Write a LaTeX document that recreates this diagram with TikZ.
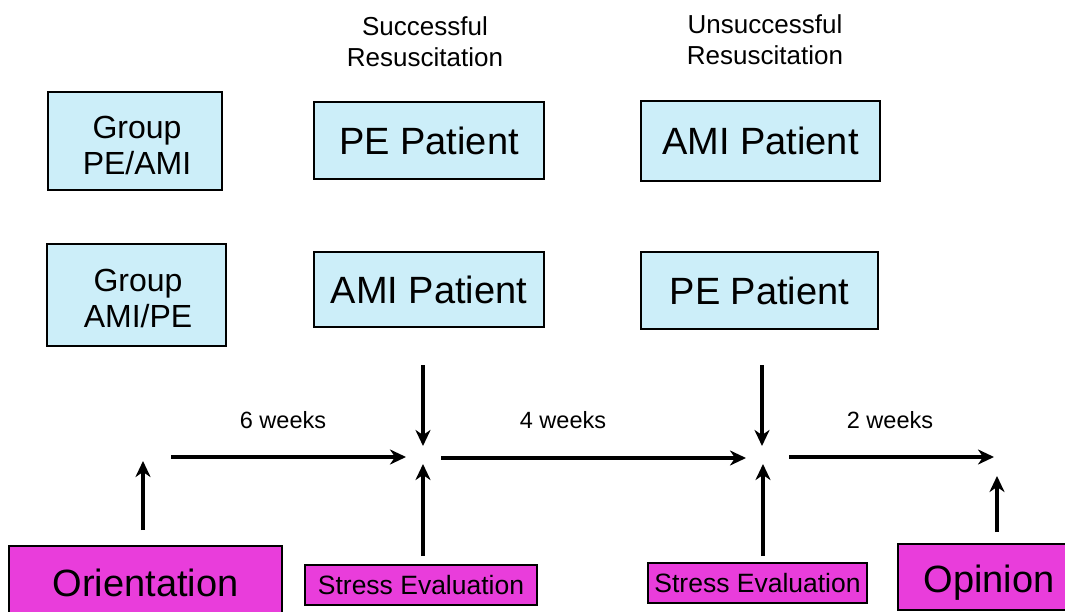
\documentclass[tikz,border=0pt]{standalone}
\usepackage{fontspec}
\setmainfont{Liberation Sans}
\usetikzlibrary{arrows.meta}
\definecolor{boxcyan}{RGB}{204,238,249}
\definecolor{boxmag}{RGB}{233,61,219}
\begin{document}
\begin{tikzpicture}[x=1pt,y=-1pt,
  cbox/.style={draw=black,line width=1.6pt,fill=boxcyan,inner sep=0pt,align=center},
  mbox/.style={draw=black,line width=1.6pt,fill=boxmag,inner sep=0pt,align=center},
  big/.style={font=\fontsize{38}{42}\selectfont},
  grp/.style={font=\fontsize{32}{36}\selectfont},
  arr/.style={line width=3.2pt,-{Stealth[length=16pt,width=15pt,inset=5pt]}},
  lbl/.style={font=\fontsize{23.5}{28}\selectfont,inner sep=0pt},
  hdr/.style={font=\fontsize{26}{31}\selectfont,align=center,inner sep=0pt}]
\useasboundingbox (0,0) rectangle (1065,612);
% headers
\node[hdr] (h1) at (425,42) {Successful\\Resuscitation};
\node[hdr] (h2) at (765,40) {Unsuccessful\\Resuscitation};
% cyan boxes
\node[cbox,grp,minimum width=174pt,minimum height=98pt] (g1) at (135,141) {};
\node[grp,align=center,inner sep=0pt] (g1t) at (137,145) {Group\\PE/AMI};
\node[cbox,grp,minimum width=179pt,minimum height=102pt] (g2) at (136.5,295) {};
\node[grp,align=center,inner sep=0pt] (g2t) at (138,298) {Group\\AMI/PE};
\node[cbox,big,minimum width=230pt,minimum height=77pt] (pe1) at (429,140.5) {PE Patient};
\node[cbox,big,minimum width=230pt,minimum height=75pt] (ami1) at (429,289.5) {AMI Patient};
\node[cbox,big,minimum width=239pt,minimum height=80pt] (ami2) at (760.5,141) {AMI Patient};
\node[cbox,big,minimum width=237pt,minimum height=77pt] (pe2) at (759.5,290.5) {PE Patient};
% magenta boxes
\node[mbox,big,minimum width=273pt,minimum height=74pt] (orient) at (145.5,583) {Orientation};
\node[mbox,font=\fontsize{26.5}{30}\selectfont,minimum width=232pt,minimum height=40pt] (se1) at (421,585) {Stress Evaluation};
\node[mbox,font=\fontsize{26.5}{30}\selectfont,minimum width=219pt,minimum height=40pt] (se2) at (757.5,583) {Stress Evaluation};
\node[mbox,minimum width=175pt,minimum height=66pt,anchor=west] (opin) at (897,577) {};
\node[big,inner sep=0pt] (opintxt) at (989,583) {Opinion};
% arrow endpoints
\coordinate (o1) at (143,530); \coordinate (o2) at (143,461);
\coordinate (a1) at (171,457); \coordinate (a2) at (406,457);
\coordinate (d1) at (423,365); \coordinate (d2) at (423,446);
\coordinate (u1) at (423,556); \coordinate (u2) at (423,464);
\coordinate (b1) at (441,458); \coordinate (b2) at (746,458);
\coordinate (d3) at (762,365); \coordinate (d4) at (762,446);
\coordinate (u3) at (763,556); \coordinate (u4) at (763,464);
\coordinate (c1) at (789,457); \coordinate (c2) at (994,457);
\coordinate (p1) at (997,532); \coordinate (p2) at (997,476);
\draw[arr] (o1) -- (o2);
\draw[arr] (a1) -- (a2);
\draw[arr] (d1) -- (d2);
\draw[arr] (u1) -- (u2);
\draw[arr] (b1) -- (b2);
\draw[arr] (d3) -- (d4);
\draw[arr] (u3) -- (u4);
\draw[arr] (c1) -- (c2);
\draw[arr] (p1) -- (p2);
% labels
\node[lbl] (w6) at (283,420) {6 weeks};
\node[lbl] (w4) at (563,420) {4 weeks};
\node[lbl] (w2) at (890,420) {2 weeks};
\end{tikzpicture}
\end{document}
